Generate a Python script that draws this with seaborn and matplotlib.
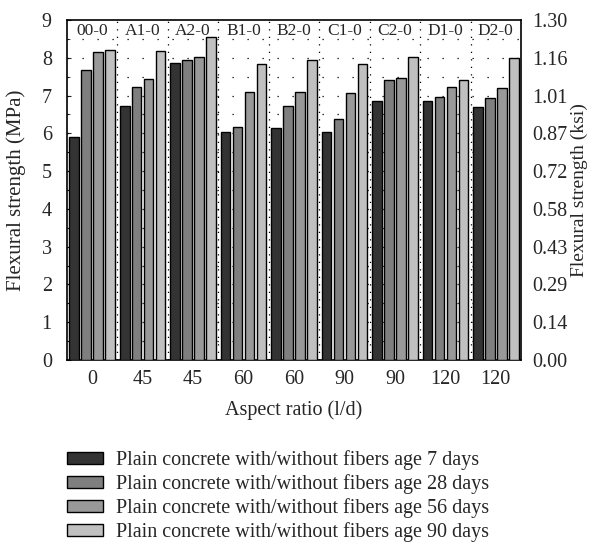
import matplotlib
matplotlib.use("Agg")
import matplotlib.pyplot as plt
import seaborn as sns
import pandas as pd
import numpy as np

groups = ["00-0", "A1-0", "A2-0", "B1-0", "B2-0", "C1-0", "C2-0", "D1-0", "D2-0"]
aspect_labels = ["0", "45", "45", "60", "60", "90", "90", "120", "120"]
series = ["Plain concrete with/without fibers age 7 days",
          "Plain concrete with/without fibers age 28 days",
          "Plain concrete with/without fibers age 56 days",
          "Plain concrete with/without fibers age 90 days"]
age7 = [5.91, 6.72, 7.86, 6.03, 6.15, 6.04, 6.85, 6.86, 6.70]
age28 = [7.69, 7.22, 7.93, 6.18, 6.73, 6.38, 7.40, 6.95, 6.93]
age56 = [8.16, 7.43, 8.03, 7.09, 7.10, 7.07, 7.46, 7.23, 7.21]
age90 = [8.21, 8.18, 8.56, 7.84, 7.95, 7.84, 8.03, 7.42, 7.99]
left_ticks = [0, 1, 2, 3, 4, 5, 6, 7, 8, 9]
right_labels = ["0.00", "0.14", "0.29", "0.43", "0.58", "0.72", "0.87", "1.01", "1.16", "1.30"]
colors = ["#333333", "#7f7f7f", "#999999", "#c0c0c0"]

rows = []
for s, vals in zip(series, [age7, age28, age56, age90]):
    for g, v in zip(groups, vals):
        rows.append({"group": g, "series": s, "value": v})
df = pd.DataFrame(rows)

sns.set_style("white")
plt.rcParams["font.family"] = ["Liberation Serif", "DejaVu Serif"]

fig = plt.figure(figsize=(5.89, 5.47), dpi=100)
ax = fig.add_axes([0.1138, 0.3419, 0.7708, 0.6215])

sns.barplot(data=df, x="group", y="value", hue="series", order=groups,
            hue_order=series, palette=colors, width=0.95, gap=0.2,
            edgecolor="black", linewidth=1.0, ax=ax, zorder=3, legend=True)

ax.set_ylim(0, 9)
ax.set_xlim(-0.5, len(groups) - 0.5)
ax.set_yticks(left_ticks)
ax.set_yticklabels([str(t) for t in left_ticks], fontsize=14.5)
ax.set_yticks(np.arange(0, 9.01, 0.5), minor=True)
ax.set_xticks(range(len(groups)))
ax.set_xticklabels(aspect_labels, fontsize=14.5)
ax.set_xlabel("Aspect ratio (l/d)", fontsize=14.5, labelpad=8)
ax.set_ylabel("Flexural strength (MPa)", fontsize=15, labelpad=11)
ax.tick_params(axis="y", which="major", direction="in", length=3, left=True, pad=11)
ax.tick_params(axis="y", which="minor", direction="in", length=2, left=True)
ax.tick_params(axis="x", length=0, pad=7)

# dotted grids
for yv in np.arange(0.5, 9, 0.5):
    ax.axhline(yv, color="black", linestyle=(0, (1, 11)), linewidth=0.9, zorder=1)
for xv in np.arange(0.5, len(groups) - 0.5, 1):
    ax.axvline(xv, color="black", linestyle=(0, (1, 5)), linewidth=0.9, zorder=1)

for i, g in enumerate(groups):
    ax.text(i, 8.72, g, ha="center", va="center", fontsize=12.5, zorder=4)

for sp in ax.spines.values():
    sp.set_color("black")
    sp.set_linewidth(1.2)

ax2 = ax.twinx()
ax2.set_ylim(0, 9)
ax2.set_yticks(left_ticks)
ax2.set_yticklabels(right_labels, fontsize=14.5)
ax2.tick_params(axis="y", direction="in", length=0, pad=8)
ax2.set_ylabel("Flexural strength (ksi)", fontsize=14, labelpad=2)
for sp in ax2.spines.values():
    sp.set_visible(False)

handles, labels = ax.get_legend_handles_labels()
ax.legend_.remove()
fig.legend(handles, labels, loc="upper left", bbox_to_anchor=(0.100, 0.191),
           frameon=False, fontsize=14.5, handlelength=1.8, handleheight=0.55,
           labelspacing=0.2, handletextpad=0.65, borderaxespad=0)

fig.savefig("out.png", dpi=100)
